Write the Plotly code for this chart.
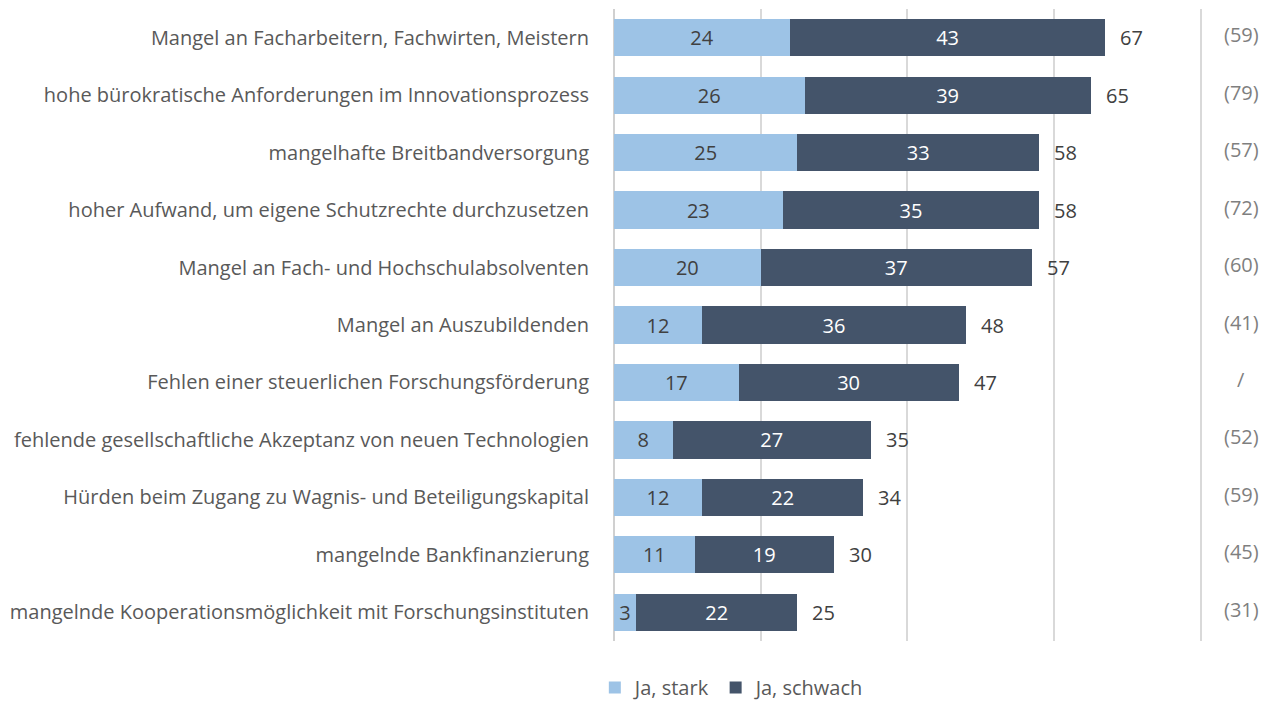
import plotly.graph_objects as go

categories = [
    "Mangel an Facharbeitern, Fachwirten, Meistern",
    "hohe bürokratische Anforderungen im Innovationsprozess",
    "mangelhafte Breitbandversorgung",
    "hoher Aufwand, um eigene Schutzrechte durchzusetzen",
    "Mangel an Fach- und Hochschulabsolventen",
    "Mangel an Auszubildenden",
    "Fehlen einer steuerlichen Forschungsförderung",
    "fehlende gesellschaftliche Akzeptanz von neuen Technologien",
    "Hürden beim Zugang zu Wagnis- und Beteiligungskapital",
    "mangelnde Bankfinanzierung",
    "mangelnde Kooperationsmöglichkeit mit Forschungsinstituten",
]
ja_stark = [24, 26, 25, 23, 20, 12, 17, 8, 12, 11, 3]
ja_schwach = [43, 39, 33, 35, 37, 36, 30, 27, 22, 19, 22]
totals = [67, 65, 58, 58, 57, 48, 47, 35, 34, 30, 25]
previous = ["(59)", "(79)", "(57)", "(72)", "(60)", "(41)", "/", "(52)", "(59)", "(45)", "(31)"]

FONT = "Open Sans"
FS = 20
LIGHT = "#9DC3E6"
DARK = "#44546A"

fig = go.Figure()
fig.add_trace(go.Bar(
    y=categories, x=ja_stark, orientation="h", name="Ja, stark",
    marker=dict(color=LIGHT, line=dict(width=0)),
    text=ja_stark, textposition="inside", insidetextanchor="middle",
    textfont=dict(color="#404040", size=FS, family=FONT),
    hoverinfo="skip",
))
fig.add_trace(go.Bar(
    y=categories, x=ja_schwach, orientation="h", name="Ja, schwach",
    marker=dict(color=DARK, line=dict(width=0)),
    text=ja_schwach, textposition="inside", insidetextanchor="middle",
    textfont=dict(color="#ffffff", size=FS, family=FONT),
    hoverinfo="skip",
))

annotations = []
for cat, tot, prev in zip(categories, totals, previous):
    annotations.append(dict(
        x=tot, y=cat, xref="x", yref="y", text=str(tot), showarrow=False,
        xanchor="left", xshift=13, font=dict(size=FS, color="#404040", family=FONT),
    ))
    annotations.append(dict(
        x=1, y=cat, xref="paper", yref="y", text=prev, showarrow=False,
        xanchor="center", xshift=39, yshift=3,
        font=dict(size=FS, color="#7f7f7f", family=FONT),
    ))

fig.update_layout(
    barmode="stack",
    bargap=0.35,
    width=1266, height=699,
    margin=dict(l=606, r=72, t=1, b=66),
    paper_bgcolor="white", plot_bgcolor="white",
    font=dict(family=FONT, size=FS, color="#595959"),
    showlegend=True,
    legend=dict(
        orientation="h", x=-0.0326, xanchor="left",
        yref="container", y=0.0, yanchor="bottom",
        font=dict(size=FS, color="#595959", family=FONT),
        traceorder="normal",
    ),
    annotations=annotations,
    uniformtext=dict(minsize=10, mode="show"),
)
fig.update_xaxes(
    range=[0, 80.2], tickvals=[0, 20, 40, 60, 80], showgrid=True,
    gridcolor="#d9d9d9", gridwidth=2,
    showticklabels=False, zeroline=True, zerolinecolor="#d0d0d0", zerolinewidth=2,
    showline=False, fixedrange=True,
)
fig.update_yaxes(
    autorange="reversed", showgrid=False, ticks="", ticklabelstandoff=24,
    tickfont=dict(size=FS, color="#595959", family=FONT), fixedrange=True,
)

fig.write_html("out.html")
